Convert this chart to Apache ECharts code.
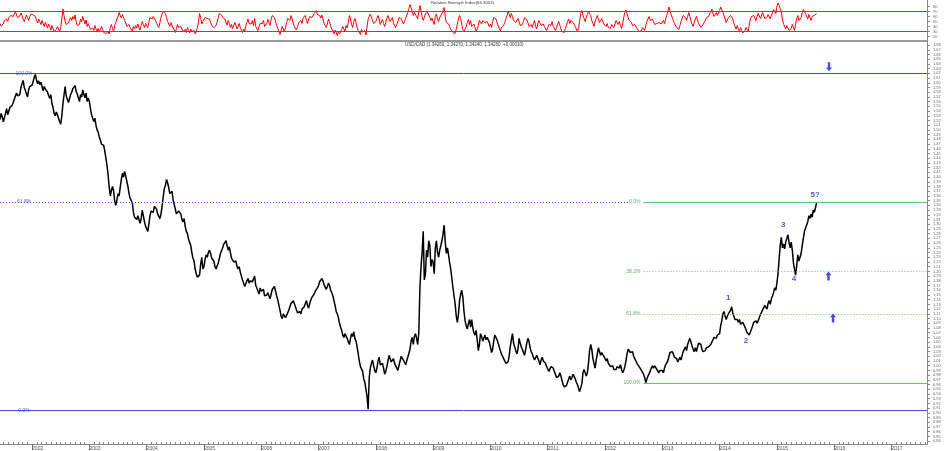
<!DOCTYPE html>
<html>
<head>
<meta charset="utf-8">
<title>USD/CAD daily with RSI</title>
<script src="https://cdn.jsdelivr.net/npm/echarts@6/dist/echarts.min.js"></script>
<style>
    html, body { margin: 0; padding: 0; background: #fff; }
    #chart { width: 945px; height: 451px; }
</style>
</head>
<body>
<div id="chart"></div>
<script>
// weekly closes (2001 starts in june, 2015 ends in september)
const p2001 = [1.522, 1.535, 1.528, 1.517, 1.520, 1.535, 1.545, 1.532, 1.540, 1.548, 1.545, 1.552, 1.558, 1.565, 1.572, 1.578, 1.572, 1.568, 1.575, 1.590, 1.598, 1.605, 1.590, 1.584, 1.576, 1.570, 1.585, 1.592, 1.596]
const p2002 = [1.595, 1.603, 1.612, 1.618, 1.606, 1.598, 1.604, 1.596, 1.601, 1.592, 1.583, 1.592, 1.587, 1.590, 1.580, 1.573, 1.567, 1.575, 1.556, 1.548, 1.535, 1.530, 1.538, 1.532, 1.525, 1.518, 1.512, 1.530, 1.555, 1.575, 1.592, 1.572, 1.565, 1.558, 1.562, 1.575, 1.580, 1.588, 1.585, 1.594, 1.582, 1.576, 1.568, 1.560, 1.575, 1.570, 1.585, 1.575, 1.568, 1.578, 1.560, 1.567]
const p2003 = [1.560, 1.545, 1.532, 1.525, 1.518, 1.525, 1.510, 1.500, 1.495, 1.485, 1.478, 1.470, 1.472, 1.467, 1.455, 1.440, 1.425, 1.405, 1.378, 1.360, 1.372, 1.380, 1.370, 1.348, 1.340, 1.352, 1.365, 1.360, 1.378, 1.395, 1.408, 1.400, 1.412, 1.402, 1.398, 1.380, 1.365, 1.355, 1.358, 1.345, 1.325, 1.315, 1.318, 1.310, 1.318, 1.310, 1.302, 1.312, 1.330, 1.318, 1.305, 1.296]
const p2004 = [1.290, 1.285, 1.300, 1.318, 1.328, 1.330, 1.325, 1.338, 1.340, 1.332, 1.322, 1.318, 1.312, 1.322, 1.338, 1.358, 1.375, 1.382, 1.395, 1.388, 1.378, 1.365, 1.362, 1.370, 1.352, 1.342, 1.332, 1.322, 1.318, 1.328, 1.332, 1.322, 1.310, 1.305, 1.312, 1.295, 1.285, 1.280, 1.268, 1.265, 1.255, 1.240, 1.228, 1.222, 1.205, 1.195, 1.188, 1.185, 1.192, 1.215, 1.230, 1.205]
const p2005 = [1.210, 1.225, 1.235, 1.230, 1.240, 1.245, 1.238, 1.228, 1.232, 1.222, 1.210, 1.205, 1.212, 1.218, 1.228, 1.238, 1.242, 1.250, 1.258, 1.262, 1.265, 1.255, 1.245, 1.252, 1.240, 1.228, 1.232, 1.220, 1.218, 1.222, 1.210, 1.205, 1.210, 1.198, 1.195, 1.182, 1.178, 1.168, 1.172, 1.180, 1.185, 1.175, 1.180, 1.182, 1.178, 1.175, 1.190, 1.170, 1.165, 1.158, 1.152, 1.165]
const p2006 = [1.158, 1.155, 1.162, 1.148, 1.145, 1.150, 1.155, 1.148, 1.142, 1.152, 1.162, 1.165, 1.168, 1.158, 1.148, 1.140, 1.128, 1.118, 1.105, 1.100, 1.110, 1.112, 1.102, 1.098, 1.112, 1.118, 1.122, 1.132, 1.128, 1.138, 1.132, 1.125, 1.118, 1.112, 1.108, 1.115, 1.110, 1.120, 1.118, 1.125, 1.132, 1.138, 1.128, 1.122, 1.132, 1.140, 1.145, 1.142, 1.152, 1.158, 1.162, 1.165]
const p2007 = [1.170, 1.178, 1.182, 1.185, 1.180, 1.172, 1.168, 1.162, 1.168, 1.175, 1.170, 1.160, 1.155, 1.148, 1.138, 1.128, 1.115, 1.110, 1.102, 1.090, 1.082, 1.075, 1.065, 1.060, 1.068, 1.065, 1.058, 1.050, 1.045, 1.058, 1.068, 1.062, 1.072, 1.058, 1.052, 1.040, 1.025, 1.010, 0.998, 0.995, 0.988, 0.972, 0.965, 0.950, 0.935, 0.908, 0.975, 0.995, 1.005, 1.012, 1.000, 0.990]
const p2008 = [0.985, 0.995, 1.010, 1.018, 1.002, 0.998, 1.005, 0.995, 0.982, 0.988, 0.998, 1.010, 1.022, 1.018, 1.008, 1.012, 1.015, 1.005, 1.002, 0.995, 0.990, 0.992, 1.010, 1.020, 1.018, 1.012, 1.008, 1.002, 1.010, 1.018, 1.022, 1.035, 1.052, 1.060, 1.045, 1.062, 1.068, 1.058, 1.045, 1.070, 1.165, 1.210, 1.240, 1.285, 1.182, 1.195, 1.245, 1.230, 1.265, 1.255, 1.210, 1.225]
const p2009 = [1.220, 1.195, 1.250, 1.265, 1.240, 1.230, 1.245, 1.255, 1.265, 1.280, 1.298, 1.262, 1.238, 1.250, 1.235, 1.218, 1.205, 1.185, 1.165, 1.148, 1.130, 1.105, 1.092, 1.110, 1.138, 1.152, 1.160, 1.145, 1.115, 1.095, 1.085, 1.078, 1.090, 1.098, 1.082, 1.098, 1.080, 1.070, 1.065, 1.075, 1.055, 1.032, 1.045, 1.068, 1.062, 1.052, 1.058, 1.065, 1.055, 1.060, 1.058, 1.050]
const p2010 = [1.040, 1.028, 1.035, 1.052, 1.065, 1.062, 1.055, 1.048, 1.040, 1.032, 1.025, 1.020, 1.015, 1.010, 1.005, 1.002, 1.008, 1.020, 1.040, 1.055, 1.068, 1.048, 1.040, 1.032, 1.025, 1.035, 1.058, 1.048, 1.040, 1.035, 1.028, 1.022, 1.035, 1.048, 1.058, 1.052, 1.038, 1.030, 1.025, 1.018, 1.012, 1.008, 1.022, 1.018, 1.010, 1.002, 1.012, 1.018, 1.010, 1.008, 1.005, 0.998]
const p2011 = [0.995, 0.988, 0.992, 0.998, 1.002, 0.995, 0.988, 0.982, 0.975, 0.972, 0.978, 0.985, 0.978, 0.968, 0.960, 0.955, 0.952, 0.958, 0.965, 0.972, 0.978, 0.970, 0.975, 0.982, 0.978, 0.972, 0.965, 0.960, 0.952, 0.945, 0.948, 0.962, 0.985, 0.992, 0.985, 0.978, 0.985, 1.005, 1.032, 1.045, 1.035, 1.015, 1.005, 0.995, 1.012, 1.025, 1.038, 1.030, 1.022, 1.028, 1.032, 1.020]
const p2012 = [1.018, 1.010, 1.015, 1.005, 1.002, 0.998, 0.995, 1.000, 0.992, 0.990, 0.992, 0.998, 0.997, 0.995, 1.002, 0.992, 0.985, 0.990, 0.998, 1.010, 1.025, 1.035, 1.038, 1.028, 1.025, 1.030, 1.020, 1.015, 1.010, 1.005, 1.002, 0.998, 0.995, 0.990, 0.988, 0.982, 0.975, 0.964, 0.972, 0.978, 0.982, 0.988, 0.995, 1.000, 0.995, 1.000, 0.998, 0.992, 0.988, 0.985, 0.990, 0.992]
const p2013 = [0.990, 0.985, 0.995, 1.002, 1.005, 1.010, 1.020, 1.028, 1.032, 1.030, 1.025, 1.018, 1.020, 1.015, 1.008, 1.012, 1.018, 1.012, 1.022, 1.030, 1.035, 1.040, 1.032, 1.045, 1.052, 1.058, 1.050, 1.042, 1.035, 1.030, 1.038, 1.030, 1.040, 1.048, 1.052, 1.045, 1.035, 1.030, 1.028, 1.032, 1.038, 1.035, 1.040, 1.042, 1.045, 1.050, 1.055, 1.060, 1.062, 1.058, 1.065, 1.063]
const p2014 = [1.068, 1.085, 1.095, 1.110, 1.115, 1.105, 1.098, 1.105, 1.110, 1.112, 1.118, 1.125, 1.112, 1.105, 1.098, 1.102, 1.098, 1.092, 1.098, 1.088, 1.085, 1.092, 1.088, 1.082, 1.078, 1.070, 1.068, 1.065, 1.072, 1.078, 1.085, 1.092, 1.088, 1.095, 1.090, 1.095, 1.102, 1.108, 1.112, 1.118, 1.122, 1.128, 1.125, 1.120, 1.132, 1.138, 1.130, 1.142, 1.148, 1.155, 1.165, 1.160]
const p2015 = [1.175, 1.195, 1.225, 1.255, 1.272, 1.250, 1.258, 1.248, 1.262, 1.270, 1.278, 1.262, 1.250, 1.262, 1.245, 1.218, 1.205, 1.192, 1.212, 1.235, 1.222, 1.218, 1.238, 1.255, 1.270, 1.285, 1.292, 1.288, 1.305, 1.318, 1.312, 1.322, 1.315, 1.330, 1.325, 1.335, 1.345]

// RSI(14), sampled weekly from the top panel
const r2001 = [46, 41, 38, 45, 52, 48, 55, 50, 58, 54, 62, 66, 60, 64, 70, 63, 58, 54, 61, 67, 62, 55, 50, 57, 63, 58, 52, 60, 65]
const r2002 = [68, 63, 66, 60, 52, 47, 55, 50, 44, 52, 46, 40, 48, 43, 37, 45, 40, 33, 42, 36, 30, 26, 34, 40, 35, 30, 38, 55, 75, 62, 50, 44, 40, 47, 53, 58, 52, 60, 55, 63, 50, 42, 38, 44, 55, 49, 60, 52, 45, 53, 40, 46]
const r2003 = [40, 34, 30, 37, 32, 42, 35, 30, 36, 29, 33, 40, 34, 28, 32, 26, 22, 30, 25, 38, 44, 36, 30, 42, 48, 55, 60, 68, 62, 57, 64, 58, 52, 47, 40, 36, 44, 38, 34, 30, 40, 35, 42, 37, 45, 38, 33, 42, 50, 44, 38, 46]
const r2004 = [42, 38, 48, 58, 62, 55, 60, 64, 52, 46, 42, 38, 48, 58, 65, 70, 73, 66, 58, 50, 45, 40, 48, 42, 38, 33, 28, 36, 44, 38, 34, 40, 35, 30, 26, 34, 28, 38, 32, 27, 35, 30, 26, 32, 25, 30, 38, 48, 66, 58, 45, 50]
const r2005 = [52, 58, 62, 56, 60, 55, 48, 42, 46, 38, 34, 42, 50, 58, 66, 70, 63, 58, 62, 55, 48, 43, 52, 46, 38, 44, 36, 40, 48, 42, 35, 40, 46, 38, 33, 28, 35, 30, 42, 48, 55, 46, 50, 45, 52, 42, 56, 40, 36, 32, 40, 46]
const r2006 = [42, 46, 52, 40, 38, 46, 54, 48, 42, 55, 62, 66, 58, 50, 42, 36, 30, 24, 32, 40, 36, 30, 38, 48, 56, 60, 52, 62, 55, 47, 40, 36, 33, 40, 48, 44, 52, 46, 58, 55, 62, 52, 46, 55, 60, 64, 58, 62, 66, 70, 72, 64]
const r2007 = [60, 62, 57, 63, 55, 46, 42, 38, 45, 55, 50, 40, 36, 30, 25, 33, 28, 22, 30, 25, 24, 34, 40, 36, 30, 42, 37, 48, 62, 55, 44, 38, 50, 56, 48, 38, 32, 28, 24, 34, 29, 25, 32, 23, 27, 55, 60, 65, 58, 52, 46, 42]
const r2008 = [50, 56, 62, 55, 44, 48, 54, 46, 40, 48, 56, 62, 55, 50, 53, 58, 46, 42, 38, 44, 50, 58, 62, 56, 52, 45, 50, 56, 60, 68, 76, 84, 78, 70, 62, 68, 72, 60, 55, 70, 82, 78, 60, 52, 58, 66, 62, 68, 72, 58, 52, 57]
const r2009 = [50, 44, 60, 65, 55, 50, 58, 62, 66, 72, 78, 60, 48, 52, 45, 40, 34, 30, 28, 32, 26, 35, 45, 55, 62, 56, 44, 34, 29, 35, 40, 48, 54, 44, 52, 40, 36, 45, 38, 30, 35, 42, 52, 48, 45, 52, 56, 48, 44, 50, 46, 40]
const r2010 = [45, 38, 50, 58, 62, 55, 48, 42, 36, 31, 38, 35, 42, 48, 55, 62, 70, 65, 58, 66, 60, 52, 55, 48, 44, 56, 50, 42, 38, 44, 50, 58, 62, 54, 48, 40, 36, 44, 38, 46, 52, 40, 35, 45, 52, 48, 42, 38, 45, 40, 36, 32]
const r2011 = [38, 44, 48, 42, 50, 40, 36, 32, 38, 45, 50, 42, 35, 30, 34, 28, 36, 42, 50, 55, 46, 52, 56, 48, 44, 40, 35, 30, 38, 52, 66, 72, 62, 56, 50, 58, 64, 70, 72, 62, 52, 46, 40, 50, 56, 62, 55, 48, 52, 56, 50, 45]
const r2012 = [44, 40, 46, 38, 42, 36, 44, 40, 38, 45, 52, 48, 44, 50, 42, 36, 45, 58, 68, 73, 66, 58, 52, 56, 48, 42, 38, 44, 40, 36, 33, 30, 34, 31, 38, 35, 32, 42, 50, 55, 60, 52, 48, 55, 50, 44, 40, 46, 42, 48, 52, 45]
const r2013 = [48, 52, 46, 55, 62, 70, 79, 72, 64, 58, 52, 46, 42, 38, 36, 34, 42, 50, 56, 62, 66, 58, 52, 60, 68, 60, 52, 45, 40, 48, 55, 60, 52, 46, 42, 38, 35, 44, 48, 52, 58, 54, 60, 66, 70, 75, 66, 60, 64, 68, 62, 66]
const r2014 = [72, 79, 74, 68, 62, 55, 48, 52, 58, 55, 62, 66, 55, 46, 40, 35, 42, 36, 30, 38, 32, 27, 25, 32, 38, 35, 30, 45, 55, 60, 56, 62, 58, 52, 60, 66, 62, 56, 60, 68, 64, 56, 52, 58, 64, 60, 55, 62, 68, 74, 70, 66]
const r2015 = [80, 87, 82, 76, 70, 55, 46, 40, 35, 42, 38, 32, 30, 36, 44, 38, 32, 45, 55, 62, 52, 48, 58, 68, 74, 77, 66, 60, 55, 64, 58, 52, 60, 56, 62, 58, 66]

// first week of each block, as decimal year
const blockStarts = [2001.44, 2002, 2003, 2004, 2005, 2006, 2007, 2008, 2009, 2010, 2011, 2012, 2013, 2014, 2015]
const priceBlocks = [p2001, p2002, p2003, p2004, p2005, p2006, p2007, p2008, p2009, p2010, p2011, p2012, p2013, p2014, p2015]
const rsiBlocks = [r2001, r2002, r2003, r2004, r2005, r2006, r2007, r2008, r2009, r2010, r2011, r2012, r2013, r2014, r2015]

const yearTicks = [2002, 2003, 2004, 2005, 2006, 2007, 2008, 2009, 2010, 2011, 2012, 2013, 2014, 2015, 2016, 2017]
const rsiTicks = [20, 30, 40, 50, 60, 70, 80]
const rsiBands = [70, 30]

// fibonacci levels
const fibBlueLevels = [1.6200, 1.3470, 0.9056]
const fibBlueNames = ['100.0%', '61.8%', '0.0%']
const fibBlueStyles = ['solid', 'dotted', 'solid']
const fibGreenLevels = [1.3470, 1.2005, 1.1098, 0.9633]
const fibGreenNames = ['0.0%', '38.2%', '61.8%', '100.0%']
const fibGreenStyles = ['solid', 'dotted', 'dotted', 'solid']
const fibGreenStart = 2012.67
const fibBlueDottedEnd = 2012.40

// elliott wave counts: [label, date, price, side]
const waves = [
    ['1', 2014.15, 1.1285, 'top'],
    ['2', 2014.46, 1.065, 'bottom'],
    ['3', 2015.11, 1.283, 'top'],
    ['4', 2015.30, 1.196, 'bottom'],
    ['5?', 2015.67, 1.347, 'top']
]
// target arrows: [direction, date, price]
const arrows = [
    ['down', 2015.91, 1.634],
    ['up', 2015.90, 1.190],
    ['up', 2015.98, 1.101]
]

const xMin = 2001.44
const xMax = 2017.62

function toSeries(blocks) {
    const out = []
    blocks.forEach((vals, b) => {
        vals.forEach((v, i) => out.push([blockStarts[b] + i / 52, v]))
    })
    return out
}

const priceTicks = []
for (let c = 84; c <= 168; c++) priceTicks.push(c / 100)
const monthTicks = []
for (let y = 2001; y <= 2017; y++) {
    for (let m = 1; m < 12; m++) {
        const t = y + m / 12
        if (t > xMin && t < xMax) monthTicks.push(t)
    }
}

const FONT = 'Liberation Sans'
const BLUE = '#4646ff'
const RSI_BLUE = '#4c4cff'
const GREEN = '#6cc06c'
const tiny = { fontFamily: FONT, fontSize: 4, color: '#666' }

const chart = echarts.init(document.getElementById('chart'), null, { renderer: 'canvas' })

const fibLines = []
fibBlueLevels.forEach((lv, i) => {
    fibLines.push([
        { coord: [xMin, lv], lineStyle: { color: BLUE, width: 1, type: fibBlueStyles[i] === 'dotted' ? [1, 2] : 'solid' } },
        { coord: [fibBlueStyles[i] === 'dotted' ? fibBlueDottedEnd : xMax, lv] }
    ])
})
fibGreenLevels.forEach((lv, i) => {
    fibLines.push([
        { coord: [fibGreenStart, lv], lineStyle: { color: GREEN, width: 1, type: fibGreenStyles[i] === 'dotted' ? [1, 2] : 'solid' } },
        { coord: [xMax, lv] }
    ])
})
const rsiLines = rsiBands.map(v => [
    { coord: [xMin, v], lineStyle: { color: RSI_BLUE, width: 1, type: 'solid' } },
    { coord: [xMax, v] }
])

const option = {
    animation: false,
    backgroundColor: '#fff',
    grid: [
        { left: 0, right: 18, top: 0, height: 41 },
        { left: 0, right: 18, top: 41.5, bottom: 7 }
    ],
    xAxis: [
        {
            type: 'value', gridIndex: 0, min: xMin, max: xMax, position: 'bottom',
            axisLine: { lineStyle: { color: '#999', width: 2 } },
            axisTick: { show: false }, axisLabel: { show: false }, splitLine: { show: false }
        },
        {
            type: 'value', gridIndex: 1, min: xMin, max: xMax, position: 'bottom',
            axisLine: { lineStyle: { color: '#888', width: 1 } },
            axisTick: { customValues: yearTicks, length: 6, lineStyle: { color: '#777' } },
            axisLabel: {
                customValues: yearTicks, align: 'left', margin: 2,
                fontFamily: FONT, fontSize: 5, color: '#555',
                formatter: v => String(Math.round(v))
            },
            splitLine: { show: false }
        },
        {
            type: 'value', gridIndex: 1, min: xMin, max: xMax, position: 'bottom',
            axisLine: { show: false },
            axisTick: { customValues: monthTicks, inside: true, length: 2, lineStyle: { color: '#888' } },
            axisLabel: { show: false }, splitLine: { show: false }
        }
    ],
    yAxis: [
        {
            type: 'value', gridIndex: 0, position: 'right', min: 11, max: 93,
            axisLine: { show: true, lineStyle: { color: '#888' } },
            axisTick: { customValues: rsiTicks, length: 3, lineStyle: { color: '#888' } },
            axisLabel: Object.assign({ customValues: rsiTicks, margin: 6 }, tiny),
            splitLine: { show: false }
        },
        {
            type: 'value', gridIndex: 1, position: 'right', min: 0.834, max: 1.6875,
            axisLine: { show: true, lineStyle: { color: '#888' } },
            axisTick: { customValues: priceTicks, length: 3, lineStyle: { color: '#888' } },
            axisLabel: Object.assign({ customValues: priceTicks, margin: 6, formatter: v => v.toFixed(2) }, tiny),
            splitLine: { show: false }
        }
    ],
    graphic: [
        { type: 'text', left: 431, top: 1, style: { text: 'Relative Strength Index(66.3053)', font: '4.3px ' + FONT, fill: '#333' } },
        { type: 'text', left: 405, top: 42.5, style: { text: 'USD/CAD (1.34260, 1.34270, 1.34240, 1.34260, +0.00010)', font: '4.5px ' + FONT, fill: '#333' } }
    ],
    series: [
        {
            name: 'RSI', type: 'line', xAxisIndex: 0, yAxisIndex: 0,
            data: toSeries(rsiBlocks), showSymbol: false, symbol: 'none',
            lineStyle: { color: '#ff0000', width: 1 }, silent: true, z: 3,
            markLine: {
                silent: true, symbol: ['none', 'none'], label: { show: false },
                data: rsiLines
            }
        },
        {
            name: 'USD/CAD', type: 'line', xAxisIndex: 1, yAxisIndex: 1,
            data: toSeries(priceBlocks), showSymbol: false, symbol: 'none',
            lineStyle: { color: '#000', width: 1.5 }, silent: true,
            markLine: {
                silent: true, symbol: ['none', 'none'], label: { show: false },
                data: fibLines
            },
            z: 3
        },
        {
            name: 'fib labels', type: 'scatter', xAxisIndex: 1, yAxisIndex: 1,
            symbolSize: 0, silent: true, z: 4,
            data: fibBlueLevels.map((lv, i) => ({
                value: [xMin + 0.42, lv],
                label: {
                    show: true, position: 'inside', formatter: fibBlueNames[i],
                    fontFamily: FONT, fontSize: 5, color: '#3434c0',
                    backgroundColor: '#fff', padding: [0, 1]
                }
            })).concat(fibGreenLevels.map((lv, i) => ({
                value: [fibGreenStart, lv],
                label: {
                    show: true, position: 'left', distance: 2, formatter: fibGreenNames[i],
                    fontFamily: FONT, fontSize: 5, color: '#3f8f3f',
                    backgroundColor: '#fff', padding: [0, 1]
                }
            })))
        },
        {
            name: 'waves', type: 'scatter', xAxisIndex: 1, yAxisIndex: 1,
            symbolSize: 0, silent: true, z: 5,
            data: waves.map(w => ({
                value: [w[1], w[2]],
                label: {
                    show: true, position: w[3], distance: w[3] === 'top' ? 3 : 2, formatter: w[0],
                    fontFamily: FONT, fontSize: 8, fontWeight: 'bold', color: '#2424e6'
                }
            }))
        },
        {
            name: 'arrows', type: 'scatter', xAxisIndex: 1, yAxisIndex: 1,
            symbol: 'path://M5,0 L10,5 L7,5 L7,12 L3,12 L3,5 L0,5 Z',
            symbolSize: [6, 9], silent: true, z: 5,
            itemStyle: { color: '#1a1aee' },
            data: arrows.map(a => ({ value: [a[1], a[2]], symbolRotate: a[0] === 'down' ? 180 : 0 }))
        }
    ]
}

chart.setOption(option)
</script>
</body>
</html>
